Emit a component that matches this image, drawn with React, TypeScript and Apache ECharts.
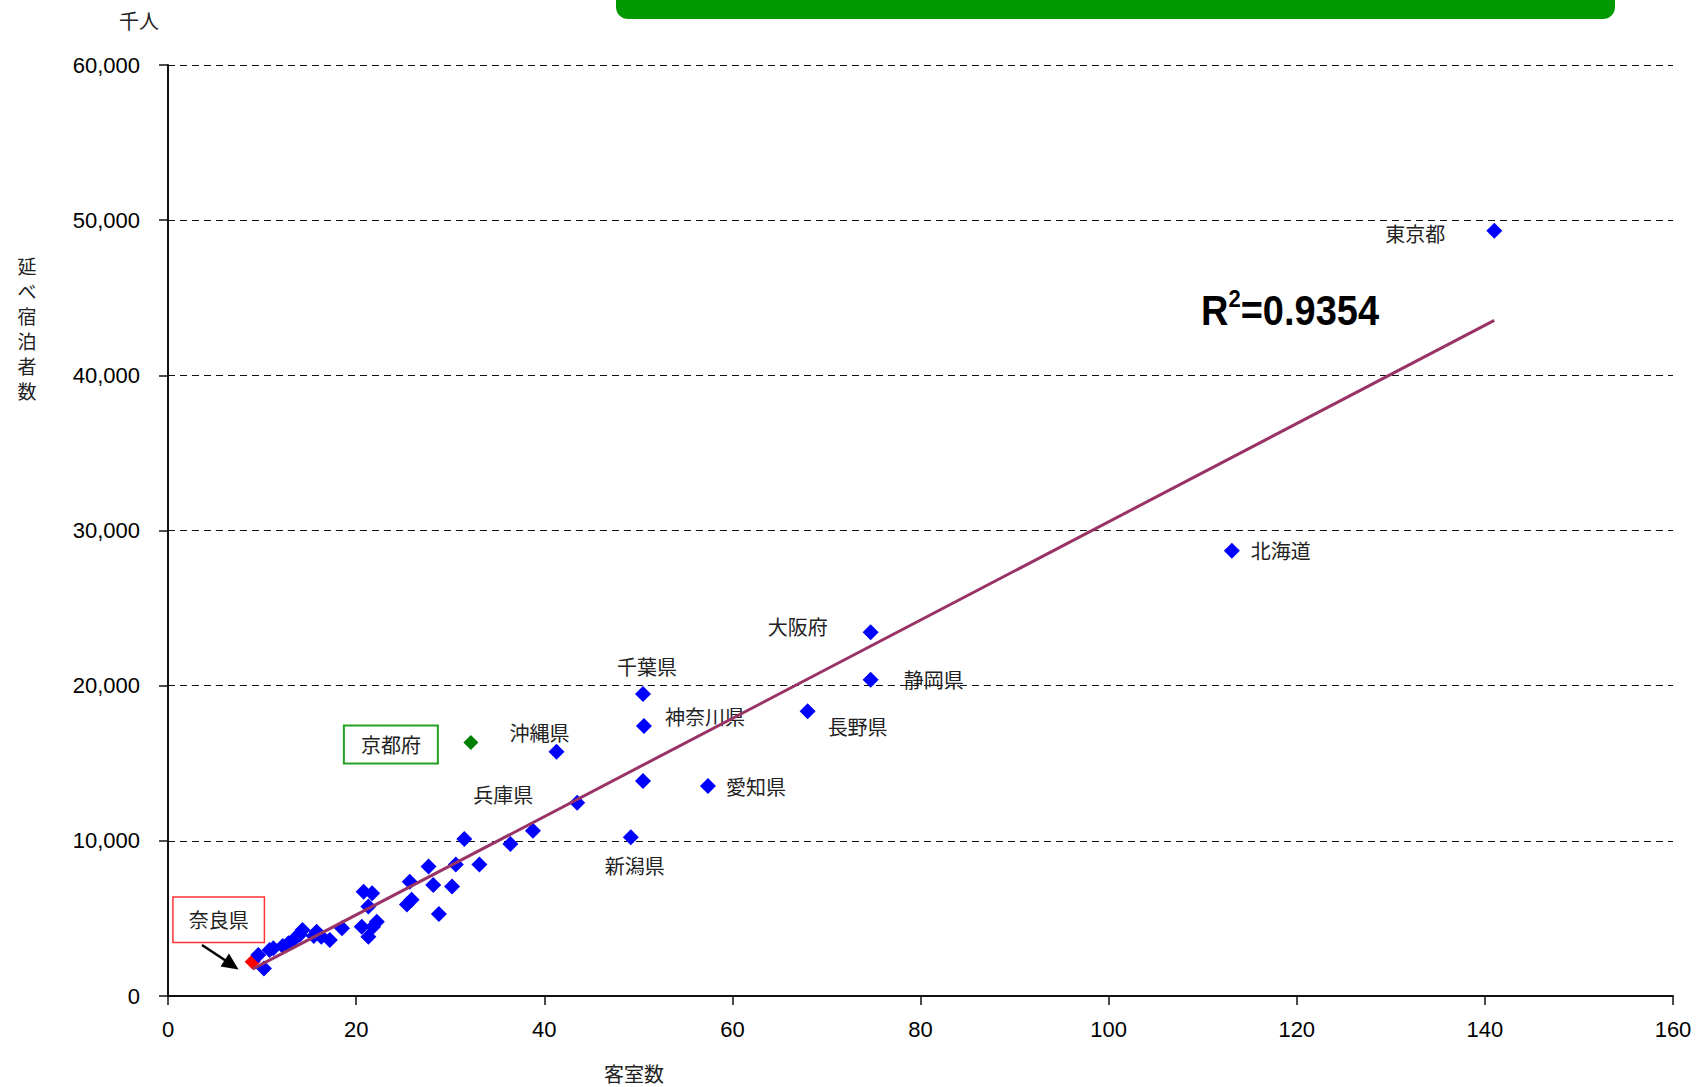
import React, { useEffect, useRef } from "react";
import * as echarts from "echarts";

// ---- data (x: 客室数, y: 延べ宿泊者数 [千人]) ----
const labeledNames = ["東京都", "北海道", "大阪府", "静岡県", "長野県", "千葉県", "神奈川県", "愛知県", "新潟県", "沖縄県", "兵庫県"];
const labeledRooms = [141.0, 113.1, 74.7, 74.7, 68.0, 50.5, 50.6, 57.4, 49.2, 41.3, 43.5];
const labeledGuests = [49310, 28690, 23450, 20380, 18350, 19460, 17400, 13530, 10230, 15740, 12450];

const otherRooms = [50.5, 38.8, 36.4, 31.5, 30.6, 33.1, 30.2, 28.2, 27.7, 28.8, 25.7, 25.9, 25.4, 20.8, 21.7, 21.3, 20.6, 21.3, 22.2, 21.8, 18.5, 17.2, 16.3, 15.8, 15.5, 14.3, 14.0, 13.5, 12.2, 10.8, 9.6, 10.2, 11.2, 12.8];
const otherGuests = [13860, 10650, 9800, 10120, 8470, 8470, 7060, 7150, 8340, 5280, 7370, 6200, 5900, 6720, 6620, 5760, 4470, 3820, 4790, 4470, 4360, 3610, 3820, 4140, 3870, 4250, 3950, 3720, 3220, 2960, 2640, 1780, 3070, 3400];

const kyotoName = "京都府";
const kyotoRooms = 32.2;
const kyotoGuests = 16330;
const naraName = "奈良県";
const naraRooms = 9.0;
const naraGuests = 2210;

const trendSlope = 316.7;
const trendIntercept = -1109;
const rSquaredText = "0.9354";

const xMin = 0, xMax = 160, xInterval = 20;
const yMin = 0, yMax = 60000, yInterval = 10000;

const xAxisTitle = "客室数";
const yAxisTitle = "延べ宿泊者数";
const yUnit = "千人";

// ---- label placement (pixel offsets from point centre to label centre) ----
const labelOffsets: Record<string, [number, number]> = {
  "東京都": [-79, 3],
  "北海道": [49, 0],
  "大阪府": [-73, -6],
  "静岡県": [63, 0],
  "長野県": [50, 15],
  "千葉県": [4, -28],
  "神奈川県": [61, -10],
  "愛知県": [48, 0],
  "新潟県": [4, 28],
  "沖縄県": [-17, -19],
  "兵庫県": [-74, -8],
};

const SYM = 16;
const CJK = '"Noto Sans CJK JP", "Noto Sans", sans-serif';
const NUM = '"Liberation Sans", Arial, sans-serif';

export default function App() {
  const ref = useRef<HTMLDivElement>(null);

  useEffect(() => {
    const chart = echarts.init(ref.current!, null, { renderer: "svg" });

    const labeledData = labeledNames.map((n, i) => {
      const [dx, dy] = labelOffsets[n] || [0, 0];
      return {
        name: n,
        value: [labeledRooms[i], labeledGuests[i]],
        label: {
          show: true,
          formatter: n,
          position: [SYM / 2 + dx, SYM / 2 + dy],
          align: "center",
          verticalAlign: "middle",
          fontFamily: CJK,
          fontSize: 20,
          color: "#222",
        },
      };
    });

    const otherData = otherRooms.map((r, i) => [r, otherGuests[i]]);

    const allRooms = [...labeledRooms, ...otherRooms, kyotoRooms, naraRooms];
    const tx0 = Math.min(...allRooms);
    const tx1 = Math.max(...allRooms);
    const trendData = [
      [tx0, trendSlope * tx0 + trendIntercept],
      [tx1, trendSlope * tx1 + trendIntercept],
    ];

    const option: any = {
      animation: false,
      backgroundColor: "#fff",
      grid: { left: 168, right: 27, top: 65, bottom: 91, containLabel: false },
      xAxis: {
        type: "value",
        min: xMin,
        max: xMax,
        interval: xInterval,
        axisLine: { show: true, lineStyle: { color: "#111", width: 2 } },
        axisTick: { show: true, inside: false, length: 9, lineStyle: { color: "#111", width: 1.5 } },
        splitLine: { show: false },
        axisLabel: { fontFamily: NUM, fontSize: 22, color: "#000", margin: 22 },
      },
      yAxis: {
        type: "value",
        min: yMin,
        max: yMax,
        interval: yInterval,
        axisLine: { show: true, lineStyle: { color: "#111", width: 2 } },
        axisTick: { show: true, inside: false, length: 9, lineStyle: { color: "#111", width: 1.5 } },
        splitLine: { show: true, lineStyle: { color: "#111", width: 1, type: [7, 5] } },
        axisLabel: {
          fontFamily: NUM,
          fontSize: 22,
          color: "#000",
          margin: 28,
          formatter: (v: number) => v.toLocaleString("en-US"),
        },
      },
      series: [
        {
          type: "scatter",
          name: naraName,
          symbol: "diamond",
          symbolSize: SYM,
          z: 2,
          itemStyle: { color: "#ff0000", opacity: 1 },
          data: [
            {
              name: naraName,
              value: [naraRooms, naraGuests],
              label: {
                show: true,
                formatter: naraName,
                position: [SYM / 2 - 34, SYM / 2 - 42],
                align: "center",
                verticalAlign: "middle",
                fontFamily: CJK,
                fontSize: 20,
                lineHeight: 20,
                color: "#222",
                backgroundColor: "#fff",
                borderColor: "#ff3333",
                borderWidth: 1.5,
                padding: [12, 15, 12, 15],
              },
            },
          ],
        },
        {
          type: "scatter",
          name: "others",
          symbol: "diamond",
          symbolSize: SYM,
          z: 3,
          itemStyle: { color: "#0000ff", opacity: 1 },
          data: otherData,
        },
        {
          type: "scatter",
          name: "labeled",
          symbol: "diamond",
          symbolSize: SYM,
          z: 3,
          itemStyle: { color: "#0000ff", opacity: 1 },
          data: labeledData,
        },
        {
          type: "scatter",
          name: kyotoName,
          symbol: "diamond",
          symbolSize: 15,
          z: 3,
          itemStyle: { color: "#008000", opacity: 1 },
          data: [
            {
              name: kyotoName,
              value: [kyotoRooms, kyotoGuests],
              label: {
                show: true,
                formatter: kyotoName,
                position: [7.5 - 80, 7.5 + 2],
                align: "center",
                verticalAlign: "middle",
                fontFamily: CJK,
                fontSize: 20,
                lineHeight: 20,
                color: "#222",
                backgroundColor: "#fff",
                borderColor: "#22a022",
                borderWidth: 2,
                padding: [8, 16, 8, 16],
              },
            },
          ],
        },
        {
          type: "line",
          name: "trend",
          data: trendData,
          symbol: "none",
          z: 5,
          lineStyle: { color: "#993366", width: 3 },
          silent: true,
        },
      ],
      graphic: [
        {
          type: "rect",
          shape: { x: 616, y: -20, width: 999, height: 39, r: 12 },
          style: { fill: "#009900" },
          silent: true,
        },
        {
          type: "text",
          x: 139,
          y: 20,
          style: { text: yUnit, fontFamily: CJK, fontSize: 20, fill: "#222", align: "center", verticalAlign: "middle" },
        },
        {
          type: "text",
          x: 27,
          y: 328,
          style: {
            text: yAxisTitle.split("").join("\n"),
            fontFamily: CJK,
            fontSize: 19,
            lineHeight: 25,
            fill: "#222",
            align: "center",
            verticalAlign: "middle",
          },
        },
        {
          type: "text",
          x: 634,
          y: 1073,
          style: { text: xAxisTitle, fontFamily: CJK, fontSize: 20, fill: "#222", align: "center", verticalAlign: "middle" },
        },
        {
          type: "text",
          x: 1201,
          y: 309,
          scaleY: 1.1,
          style: {
            text: "{r|R}{s|2}{e|=" + rSquaredText + "}",
            align: "left",
            verticalAlign: "middle",
            rich: {
              r: { fontFamily: '"Liberation Sans", sans-serif', fontWeight: "bold", fontSize: 38, lineHeight: 40, fill: "#000", verticalAlign: "bottom" },
              s: { fontFamily: '"Liberation Sans", sans-serif', fontWeight: "bold", fontSize: 22, lineHeight: 40, fill: "#000", verticalAlign: "top" },
              e: { fontFamily: '"Liberation Sans", sans-serif', fontWeight: "bold", fontSize: 38, lineHeight: 40, fill: "#000", verticalAlign: "bottom" },
            },
          },
        },
        {
          type: "line",
          shape: { x1: 202, y1: 945, x2: 227, y2: 961.5 },
          style: { stroke: "#000", lineWidth: 2.5 },
        },
        {
          type: "polygon",
          shape: { points: [[238.5, 969.5], [220.5, 966.5], [229, 953.5]] },
          style: { fill: "#000" },
        },
      ],
    };

    chart.setOption(option);
    return () => chart.dispose();
  }, []);

  return (
    <div
      ref={ref}
      style={{ position: "absolute", left: 0, top: 0, width: 1700, height: 1087, background: "#fff" }}
    />
  );
}
